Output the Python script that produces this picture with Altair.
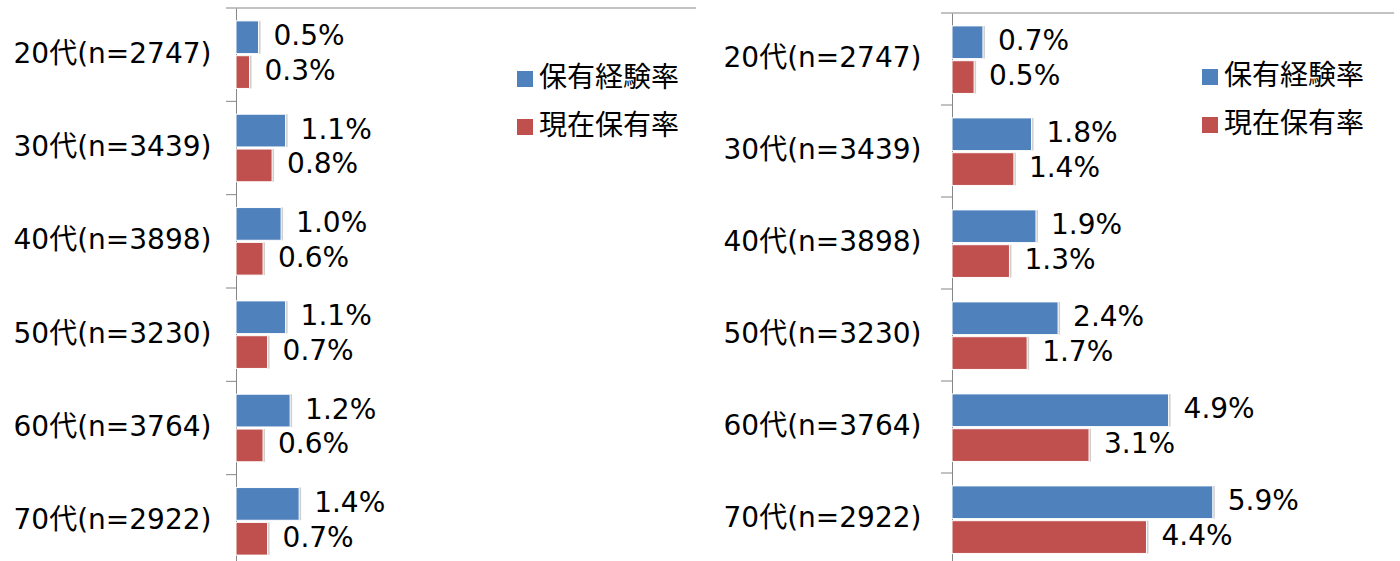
import altair as alt
import pandas as pd

categories = ["20代(n=2747)", "30代(n=3439)", "40代(n=3898)", "50代(n=3230)", "60代(n=3764)", "70代(n=2922)"]
series = ["保有経験率", "現在保有率"]
left_experience = [0.5, 1.1, 1.0, 1.1, 1.2, 1.4]
left_current = [0.3, 0.8, 0.6, 0.7, 0.6, 0.7]
right_experience = [0.7, 1.8, 1.9, 2.4, 4.9, 5.9]
right_current = [0.5, 1.4, 1.3, 1.7, 3.1, 4.4]
colors = ["#4F81BD", "#C0504D"]

FONT = "DejaVu Sans, Noto Sans CJK JP, sans-serif"
CJK = "Noto Sans CJK JP, sans-serif"
AXIS_GRAY = "#868686"


def make_df(exp, cur):
    rows = []
    for c, e, r in zip(categories, exp, cur):
        rows.append({"cat": c, "series": series[0], "value": e, "label": f"{e:.1f}%"})
        rows.append({"cat": c, "series": series[1], "value": r, "label": f"{r:.1f}%"})
    return pd.DataFrame(rows)


def panel(df, width, height, y_range, xmax, label_pad, tick_len, legend_x, legend_y):
    y = alt.Y("cat:N", sort=categories,
              scale=alt.Scale(paddingInner=0, paddingOuter=0, range=y_range),
              axis=alt.Axis(title=None, ticks=False,
                            labelPadding=label_pad, domainColor=AXIS_GRAY,
                            labelFontSize=28, labelFont=FONT,
                            labelColor="#000000", labelLimit=400))
    yoff = alt.YOffset("series:N", sort=series,
                       scale=alt.Scale(paddingInner=0.06, paddingOuter=0.37))
    x = alt.X("value:Q", scale=alt.Scale(domain=[0, xmax], nice=False, zero=True),
              axis=None)
    color = alt.Color("series:N", sort=series,
                      scale=alt.Scale(domain=series, range=colors),
                      legend=alt.Legend(title=None, orient="none", legendX=legend_x,
                                        legendY=legend_y, symbolType="square",
                                        symbolSize=256, symbolStrokeWidth=0,
                                        labelFontSize=28, labelFont=CJK,
                                        labelColor="#000000", labelOffset=0,
                                        rowPadding=20, padding=0))
    base = alt.Chart(df)
    y_start = alt.Y("cat:N", sort=categories, bandPosition=0)
    # category boundary ticks (at the start of each band)
    ticks = base.transform_filter(alt.datum.series == series[0]).mark_rule(
        color=AXIS_GRAY, strokeWidth=1).encode(
        y=y_start, x=alt.value(-tick_len), x2=alt.value(0))
    # top border line
    top_line = base.transform_filter(
        (alt.datum.cat == categories[0]) & (alt.datum.series == series[0])
    ).mark_rule(color=AXIS_GRAY, strokeWidth=1).encode(
        y=y_start, x=alt.value(0), x2=alt.value(width))
    shadow = base.mark_bar(color="#cfcfcf", xOffset=2, yOffset=2).encode(
        x=x, y=y, yOffset=yoff)
    bars = base.mark_bar(stroke="#ffffff", strokeWidth=1).encode(
        x=x, y=y, yOffset=yoff, color=color)
    text = base.mark_text(align="left", baseline="middle", dx=15,
                          fontSize=28, font=FONT, color="#000000").encode(
        x=x, y=y, yOffset=yoff, text="label:N")
    return alt.layer(shadow, bars, text, ticks, top_line).properties(width=width, height=height)


left = panel(make_df(left_experience, left_current), 460, 560, [0, 560], 10.2, 25, 10, 275, 57)
right = panel(make_df(right_experience, right_current), 442, 560, [5, 557], 10.0, 31, 11, 244, 55)

chart = alt.hconcat(left, right, spacing=26).resolve_scale(
    color="independent").resolve_legend(color="independent").properties(
    padding={"left": 13, "top": 7, "right": 0, "bottom": 0},
    background="#ffffff"
).configure_view(stroke=None)

chart.save("out.html", embed_options={"renderer": "svg", "actions": False})
